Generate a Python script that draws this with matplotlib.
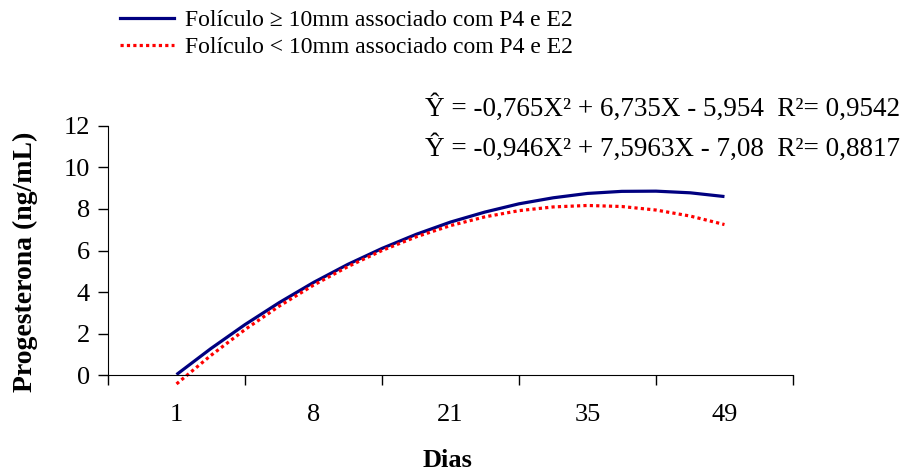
import matplotlib.pyplot as plt
from matplotlib.lines import Line2D

# =========================
# DADOS
# =========================
dias = ["1", "8", "21", "35", "49"]
posicao = [1, 1.25, 1.5, 1.75, 2, 2.25, 2.5, 2.75, 3, 3.25, 3.5, 3.75, 4, 4.25, 4.5, 4.75, 5]
p4_maior = [0.02, 1.27, 2.43, 3.49, 4.46, 5.33, 6.10, 6.78, 7.37, 7.85, 8.25, 8.54,
            8.75, 8.85, 8.86, 8.78, 8.60]
p4_menor = [-0.43, 0.94, 2.19, 3.32, 4.33, 5.22, 6.00, 6.66, 7.20, 7.62, 7.92, 8.10,
            8.17, 8.12, 7.95, 7.66, 7.25]
y_ticks = [0, 2, 4, 6, 8, 10, 12]
rotulo_maior = "Folículo ≥ 10mm associado com P4 e E2"
rotulo_menor = "Folículo < 10mm associado com P4 e E2"
eq_maior = "Ŷ = -0,765X² + 6,735X - 5,954  R²= 0,9542"
eq_menor = "Ŷ = -0,946X² + 7,5963X - 7,08  R²= 0,8817"

# =========================
# FIGURA
# =========================
plt.rcParams["font.family"] = ["Liberation Serif", "DejaVu Serif"]

fig = plt.figure(figsize=(9.01, 4.71), dpi=100)
ax = fig.add_axes([0.1199, 0.2038, 0.7602, 0.5287])

ax.plot(posicao, p4_maior, color="#000080", lw=2.3, solid_capstyle="butt", clip_on=False)
ax.plot(posicao, p4_menor, color="#ff0000", lw=2.3, linestyle=(0, (1, 1)), clip_on=False)

ax.set_xlim(0.5, 5.5)
ax.set_ylim(0, 12)
ax.set_yticks(y_ticks)
ax.set_xticks(range(1, len(dias) + 1))
ax.set_xticklabels(dias)
ax.set_xticks([i + 0.5 for i in range(0, len(dias) + 1)], minor=True)

ax.tick_params(axis="x", which="major", length=0, pad=21, labelsize=19)
ax.tick_params(axis="x", which="minor", length=7, direction="out", width=1)
ax.tick_params(axis="y", length=7, direction="out", width=1, pad=6, labelsize=19)

ax.spines["top"].set_visible(False)
ax.spines["right"].set_visible(False)

fig.text(0.028, 0.445, "Progesterona (ng/mL)", rotation=90, ha="center", va="center",
         fontsize=20, fontweight="bold")
fig.text(0.497, 0.022, "Dias", ha="center", va="center", fontsize=19, fontweight="bold")

fig.text(0.4717, 0.7707, eq_maior, ha="left", va="center", fontsize=19.5)
fig.text(0.4717, 0.6858, eq_menor, ha="left", va="center", fontsize=19.5)

handles = [Line2D([], [], color="#000080", lw=2.3),
           Line2D([], [], color="#ff0000", lw=2.3, linestyle=(0, (1, 1)))]
fig.legend(handles, [rotulo_maior, rotulo_menor], loc="upper left",
           bbox_to_anchor=(0.115, 1.015), frameon=False, fontsize=17,
           handlelength=2.3, handletextpad=0.45, labelspacing=0.25, borderpad=0.2)

fig.savefig("out.png", dpi=100)
